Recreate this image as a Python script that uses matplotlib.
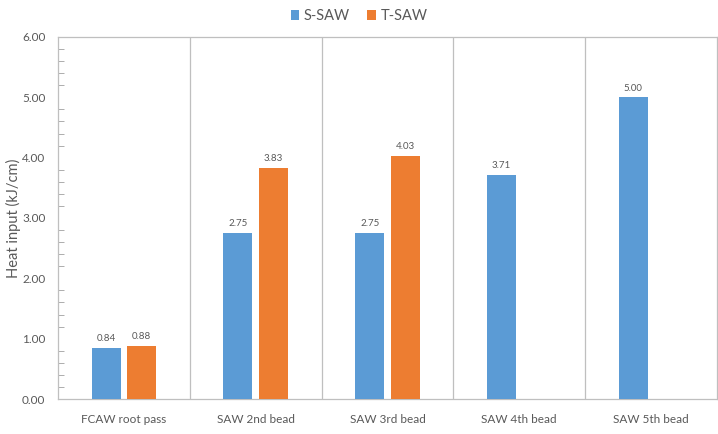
import numpy as np
import matplotlib.pyplot as plt
from matplotlib.ticker import MultipleLocator

plt.rcParams["font.family"] = ["Lato", "DejaVu Sans"]

# Heat input per pass
categories = ["FCAW root pass", "SAW 2nd bead", "SAW 3rd bead", "SAW 4th bead", "SAW 5th bead"]
s_saw = [0.84, 2.75, 2.75, 3.71, 5.00]
t_saw = [0.88, 3.83, 4.03, None, None]

blue = "#5B9BD5"
orange = "#ED7D31"
grey = "#595959"

fig = plt.figure(figsize=(7.18, 4.34), dpi=100)
ax = fig.add_axes([58 / 718, 35 / 434, 659 / 718, 362 / 434])

x = np.arange(len(categories))
w = 0.22
off = 0.135

b1 = ax.bar(x - off, s_saw, w, color=blue, label="S-SAW", zorder=3)
tx = [xi + off for xi, v in zip(x, t_saw) if v is not None]
tv = [v for v in t_saw if v is not None]
b2 = ax.bar(tx, tv, w, color=orange, label="T-SAW", zorder=3)

for bars in (b1, b2):
    for r in bars:
        ax.text(r.get_x() + r.get_width() / 2, r.get_height() + 0.08, f"{r.get_height():.2f}",
                ha="center", va="bottom", fontsize=7, color=grey)

ax.set_xlim(-0.5, len(categories) - 0.5)
ax.set_ylim(0, 6)
ax.set_xticks(x)
ax.set_xticklabels(categories, fontsize=8.5, color=grey)
ax.set_yticks(np.arange(0, 6.01, 1))
ax.set_yticklabels([f"{v:.2f}" for v in np.arange(0, 6.01, 1)], fontsize=8.5, color=grey)
ax.yaxis.set_minor_locator(MultipleLocator(0.2))
ax.tick_params(axis="x", length=0, pad=11)
ax.tick_params(axis="y", which="major", length=0, pad=9)
ax.tick_params(axis="y", which="minor", direction="in", length=4, color="#a0a0a0")

for sep in x[:-1] + 0.5:
    ax.axvline(sep, color="#bfbfbf", lw=0.9, zorder=1)

for s in ax.spines.values():
    s.set_color("#bfbfbf")
    s.set_linewidth(0.9)

ax.set_ylabel("Heat input (kJ/cm)", fontsize=10.5, color=grey)
ax.yaxis.set_label_coords(-0.056, 0.5)

fig.legend(handles=[b1, b2], loc="upper center", bbox_to_anchor=(0.5, 1.01), ncol=2,
           frameon=False, fontsize=10.5, handlelength=0.6, handleheight=0.7,
           handletextpad=0.3, columnspacing=1.2, labelcolor=grey)

plt.savefig("out.png", dpi=100)
